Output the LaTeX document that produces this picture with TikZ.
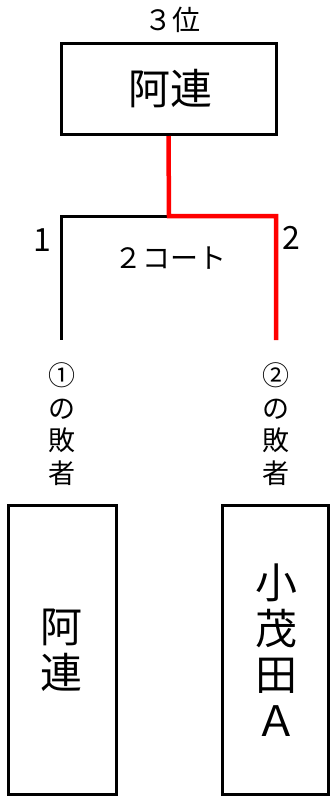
\documentclass[tikz,border=0pt]{standalone}
\usepackage{fontspec}
\setmainfont{Noto Sans CJK JP}
\newfontfamily\jp{Noto Sans CJK JP}
\begin{document}
\begin{tikzpicture}[x=1pt,y=-1pt,
  box/.style={draw=black,line width=3pt,fill=white,inner sep=0pt},
  big/.style={font=\jp\fontsize{42}{46}\selectfont,align=center,inner sep=0pt},
  small/.style={font=\jp\fontsize{28}{32}\selectfont,align=center,inner sep=0pt},
  num/.style={font=\jp\fontsize{32}{34}\selectfont,inner sep=0pt},
  win/.style={draw=red,line width=4.5pt},
  lose/.style={draw=black,line width=3pt}]
\useasboundingbox (0,0) rectangle (330,796);
% top box
\node[box,minimum width=215pt,minimum height=91pt] (top) at (168.5,89) {};
\node[big] (toptext) at (170,89) {阿連};
\node[small] (place) at (172,20) {３位};
% bracket
\coordinate (j) at (169,216);
\coordinate (lt) at (61,216);
\coordinate (lb) at (61,340);
\coordinate (rt) at (276,216);
\coordinate (rb) at (276,340);
\draw[lose] (j) -- (lt) -- (lb);
\draw[win,line join=miter] (top.south) -- (j) -- (rt) -- (rb);
\node[num] (n1) at (42,240) {1};
\node[num] (n2) at (291,238) {2};
\node[small] (court) at (170,258) {２コート};
% loser labels
\node[small,font=\jp\fontsize{27}{32.5}\selectfont] (l1) at (62,424) {①\\の\\敗\\者};
\node[small,font=\jp\fontsize{27}{32.5}\selectfont] (l2) at (276,424) {②\\の\\敗\\者};
% bottom boxes
\node[box,minimum width=108pt,minimum height=289pt] (b1) at (62,649.5) {};
\node[big] (b1t) at (62,650) {阿\\連};
\node[box,minimum width=106pt,minimum height=289pt] (b2) at (275,649.5) {};
\node[big] (b2t) at (276,650) {小\\茂\\田\\Ａ};
\end{tikzpicture}
\end{document}
